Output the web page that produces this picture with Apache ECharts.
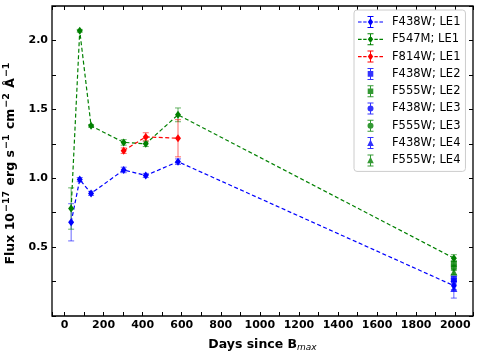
<!DOCTYPE html>
<html>
<head>
<meta charset="utf-8">
<script src="https://cdn.jsdelivr.net/npm/echarts@6/dist/echarts.min.js"></script>
<style>
  html, body { margin: 0; padding: 0; background: #fff; }
  #chart { width: 480px; height: 358px; }
</style>
</head>
<body>
<div id="chart"></div>
<script>
// LE1 light curves (days since B max)
var daysLE1 = [34, 78, 136, 303, 416, 581, 1993];
var f438wLE1 = [0.68, 0.99, 0.89, 1.06, 1.02, 1.12, 0.22];
var f438wLE1Err = [0.135, 0.015, 0.015, 0.02, 0.015, 0.02, 0.03];
var f547mLE1 = [0.78, 2.07, 1.38, 1.26, 1.25, 1.46, 0.42];
var f547mLE1Err = [0.15, 0.01, 0.01, 0.02, 0.02, 0.05, 0.025];
var daysRed = [303, 416, 581];
var f814wLE1 = [1.20, 1.30, 1.29];
var f814wLE1Err = [0.02, 0.03, 0.135];

// single late-time points for LE2..LE4
var dayLate = 1993;
var f438wLE2 = 0.27, f438wLE2Err = 0.02;
var f555wLE2 = 0.38, f555wLE2Err = 0.02;
var f438wLE3 = 0.25, f438wLE3Err = 0.02;
var f555wLE3 = 0.35, f555wLE3Err = 0.02;
var f438wLE4 = 0.20, f438wLE4Err = 0.07;
var f555wLE4 = 0.32, f555wLE4Err = 0.02;

var xLabels = [0, 200, 400, 600, 800, 1000, 1200, 1400, 1600, 1800, 2000];
var yLabels = [0.5, 1.0, 1.5, 2.0];

var BLUE = '#0000ff', GREEN = '#008000', RED = '#ff0000';

function pts(xs, ys) {
  return xs.map(function (x, i) { return [x, ys[i]]; });
}
function errPts(xs, ys, es) {
  return xs.map(function (x, i) { return [x, ys[i], es[i]]; });
}

// legend icons (25 x 12 box)
var dashes = 'M0 5.4h3.6v1.2h-3.6Z M5.2 5.4h3.4v1.2h-3.4Z M16.4 5.4h3.4v1.2h-3.4Z M21.4 5.4h3.6v1.2h-3.6Z ';
var bar = 'M12 0.5h1v11h-1Z M9.5 0h6v1h-6Z M9.5 11h6v1h-6Z ';
var diamond = 'M12.5 2.2L15.2 6L12.5 9.8L9.8 6Z';
var square = 'M9.7 3.2h5.6v5.6h-5.6Z';
var circle = 'M15.5 6A3 3 0 1 1 9.5 6A3 3 0 1 1 15.5 6Z';
var triangle = 'M12.5 2.4L15.8 8.8L9.2 8.8Z';
function icon(p) { return 'path://' + p; }

var chart = echarts.init(document.getElementById('chart'));

function errSeries(color, data) {
  return {
    type: 'custom',
    silent: true,
    z: 3,
    data: data,
    encode: { x: 0, y: 1 },
    renderItem: function (params, api) {
      var x = api.value(0), y = api.value(1), e = api.value(2);
      var hi = api.coord([x, y + e]);
      var lo = api.coord([x, y - e]);
      var cw = 3;
      var st = { stroke: color, lineWidth: 1, opacity: 0.6 };
      return {
        type: 'group',
        children: [
          { type: 'line', shape: { x1: hi[0], y1: hi[1], x2: lo[0], y2: lo[1] }, style: st },
          { type: 'line', shape: { x1: hi[0] - cw, y1: hi[1], x2: hi[0] + cw, y2: hi[1] }, style: st },
          { type: 'line', shape: { x1: lo[0] - cw, y1: lo[1], x2: lo[0] + cw, y2: lo[1] }, style: st }
        ]
      };
    }
  };
}

var tickFont = { color: '#000', fontWeight: 'bold', fontSize: 11, fontFamily: 'DejaVu Sans' };

// x: ticks every 100 from the auto interval, labels every 200
function xAx(pos, labels) {
  return {
    type: 'value', position: pos, min: -64, max: 2091, splitNumber: 20,
    axisLine: { show: false, onZero: false },
    splitLine: { show: false },
    axisTick: { show: true, inside: true, length: 4, lineStyle: { color: '#000', width: 1 } },
    axisLabel: labels ? Object.assign({
      show: true, margin: 4, customValues: xLabels,
      formatter: function (v) { return String(v); }
    }, tickFont) : { show: false }
  };
}
// y: ticks every 0.25, labels every 0.5
function yAx(pos, labels) {
  return {
    type: 'value', position: pos, min: 0, max: 2.25, interval: 0.25,
    axisLine: { show: false, onZero: false },
    splitLine: { show: false },
    axisTick: { show: true, inside: true, length: 4, lineStyle: { color: '#000', width: 1 } },
    axisLabel: labels ? Object.assign({
      show: true, margin: 4, customValues: yLabels,
      formatter: function (v) { return v.toFixed(1); }
    }, tickFont) : { show: false }
  };
}

var xAxes = [xAx('bottom', true), xAx('top', false)];
xAxes[0].name = '{b|Days since B}{s|max}';
xAxes[0].nameLocation = 'middle';
xAxes[0].nameGap = 22;
xAxes[0].nameTextStyle = {
  rich: {
    b: { fontWeight: 'bold', fontSize: 12.5, fontFamily: 'DejaVu Sans', color: '#000', lineHeight: 14, verticalAlign: 'top' },
    s: { fontStyle: 'italic', fontSize: 9, fontFamily: 'DejaVu Sans', color: '#000', lineHeight: 10, verticalAlign: 'top', padding: [5, 0, 0, 0] }
  }
};
var yAxes = [yAx('left', true), yAx('right', false)];
yAxes[0].name = '{b|Flux 10}{p|−17}{b| erg s}{p|−1}{b| cm}{p|−2}{b| Å}{p|−1}';
yAxes[0].nameLocation = 'middle';
yAxes[0].nameGap = 32;
yAxes[0].nameRotate = 90;
yAxes[0].nameTextStyle = {
  padding: [0, 4, 0, 0],
  rich: {
    b: { fontWeight: 'bold', fontSize: 12.5, fontFamily: 'DejaVu Sans', color: '#000', lineHeight: 14, verticalAlign: 'bottom' },
    p: { fontWeight: 'bold', fontSize: 9.5, fontFamily: 'DejaVu Sans', color: '#000', lineHeight: 10, verticalAlign: 'bottom', padding: [0, 1, 6, 1] }
  }
};

function lineSeries(name, color, data, symbol) {
  return {
    name: name, type: 'line', data: data, z: 4,
    symbol: symbol, symbolSize: [6, 8],
    itemStyle: { color: color },
    lineStyle: { color: color, width: 1.2, type: [4, 2.5] },
    emphasis: { disabled: true }
  };
}
function pointSeries(name, color, y, symbol, size) {
  return {
    name: name, type: 'scatter', data: [[dayLate, y]], z: 4,
    symbol: symbol, symbolSize: size,
    itemStyle: { color: color },
    emphasis: { disabled: true }
  };
}

var option = {
  animation: false,
  grid: {
    left: 52, right: 7, top: 6, bottom: 42,
    outerBoundsMode: 'none', containLabel: false,
    show: true, borderColor: '#000', borderWidth: 1.3, backgroundColor: 'transparent'
  },
  xAxis: xAxes,
  yAxis: yAxes,
  legend: {
    orient: 'vertical', left: 354, top: 10,
    padding: [6, 5, 5, 4],
    itemWidth: 25, itemHeight: 12, itemGap: 5.3,
    borderColor: '#cccccc', borderWidth: 1, borderRadius: 3,
    backgroundColor: 'rgba(255,255,255,0.8)',
    textStyle: { fontSize: 11.5, fontFamily: 'DejaVu Sans', color: '#000', padding: [0, 0, 0, 4] },
    selectedMode: false,
    data: [
      { name: 'F438W; LE1', icon: icon(dashes + bar + diamond) },
      { name: 'F547M; LE1', icon: icon(dashes + bar + diamond) },
      { name: 'F814W; LE1', icon: icon(dashes + bar + diamond) },
      { name: 'F438W; LE2', icon: icon(bar + square) },
      { name: 'F555W; LE2', icon: icon(bar + square) },
      { name: 'F438W; LE3', icon: icon(bar + circle) },
      { name: 'F555W; LE3', icon: icon(bar + circle) },
      { name: 'F438W; LE4', icon: icon(bar + triangle) },
      { name: 'F555W; LE4', icon: icon(bar + triangle) }
    ]
  },
  series: [
    errSeries(BLUE, errPts(daysLE1, f438wLE1, f438wLE1Err)),
    errSeries(GREEN, errPts(daysLE1, f547mLE1, f547mLE1Err)),
    errSeries(RED, errPts(daysRed, f814wLE1, f814wLE1Err)),
    errSeries(BLUE, [[dayLate, f438wLE2, f438wLE2Err], [dayLate, f438wLE3, f438wLE3Err], [dayLate, f438wLE4, f438wLE4Err]]),
    errSeries(GREEN, [[dayLate, f555wLE2, f555wLE2Err], [dayLate, f555wLE3, f555wLE3Err], [dayLate, f555wLE4, f555wLE4Err]]),
    lineSeries('F438W; LE1', BLUE, pts(daysLE1, f438wLE1), 'diamond'),
    lineSeries('F547M; LE1', GREEN, pts(daysLE1, f547mLE1), 'diamond'),
    lineSeries('F814W; LE1', RED, pts(daysRed, f814wLE1), 'diamond'),
    pointSeries('F438W; LE2', BLUE, f438wLE2, 'rect', 6),
    pointSeries('F555W; LE2', GREEN, f555wLE2, 'rect', 6),
    pointSeries('F438W; LE3', BLUE, f438wLE3, 'circle', 6),
    pointSeries('F555W; LE3', GREEN, f555wLE3, 'circle', 6),
    pointSeries('F438W; LE4', BLUE, f438wLE4, 'triangle', 7),
    pointSeries('F555W; LE4', GREEN, f555wLE4, 'triangle', 7)
  ]
};
chart.setOption(option);
</script>
</body>
</html>
